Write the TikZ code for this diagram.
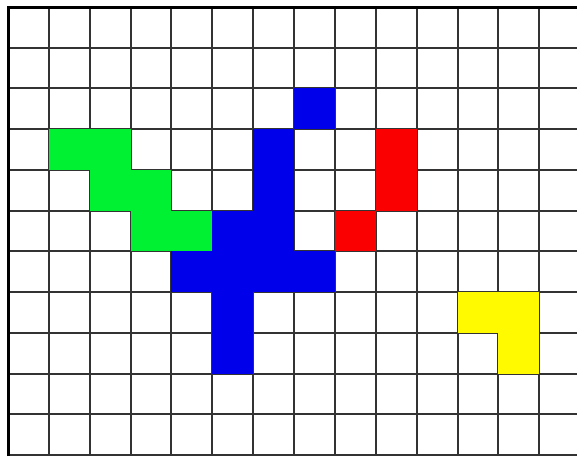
\documentclass[tikz,border=0pt]{standalone}
\definecolor{cgreen}{RGB}{0,240,50}
\definecolor{cblue}{RGB}{0,0,235}
\definecolor{cred}{RGB}{250,0,0}
\definecolor{cyellow}{RGB}{255,250,0}
\newcommand\gcell[3]{\fill[#1] ({8+40.87*#2},{7+40.73*#3}) rectangle ++(40.87,40.73);}
\begin{document}
\begin{tikzpicture}[x=1pt,y=-1pt,
  gridline/.style={line width=2pt, draw=black!80},
  border/.style={line width=3pt, draw=black}]
\useasboundingbox (0,0) rectangle (577,456);
\fill[white] (0,0) rectangle (577,456);
\foreach \c in {1,...,13} \draw[gridline] ({8+40.87*\c},7) -- ({8+40.87*\c},456);
\foreach \r in {1,...,11} \draw[gridline] (8,{7+40.73*\r}) -- (577,{7+40.73*\r});
% green
\gcell{cgreen}{1}{3}\gcell{cgreen}{2}{3}
\gcell{cgreen}{2}{4}\gcell{cgreen}{3}{4}
\gcell{cgreen}{3}{5}\gcell{cgreen}{4}{5}
% blue
\gcell{cblue}{7}{2}
\gcell{cblue}{6}{3}\gcell{cblue}{6}{4}
\gcell{cblue}{5}{5}\gcell{cblue}{6}{5}
\gcell{cblue}{4}{6}\gcell{cblue}{5}{6}\gcell{cblue}{6}{6}\gcell{cblue}{7}{6}
\gcell{cblue}{5}{7}\gcell{cblue}{5}{8}
% red
\gcell{cred}{9}{3}\gcell{cred}{9}{4}\gcell{cred}{8}{5}
% yellow
\gcell{cyellow}{11}{7}\gcell{cyellow}{12}{7}\gcell{cyellow}{12}{8}
% borders
\draw[border] (8,456) -- (8,7) -- (577,7);
\end{tikzpicture}
\end{document}
